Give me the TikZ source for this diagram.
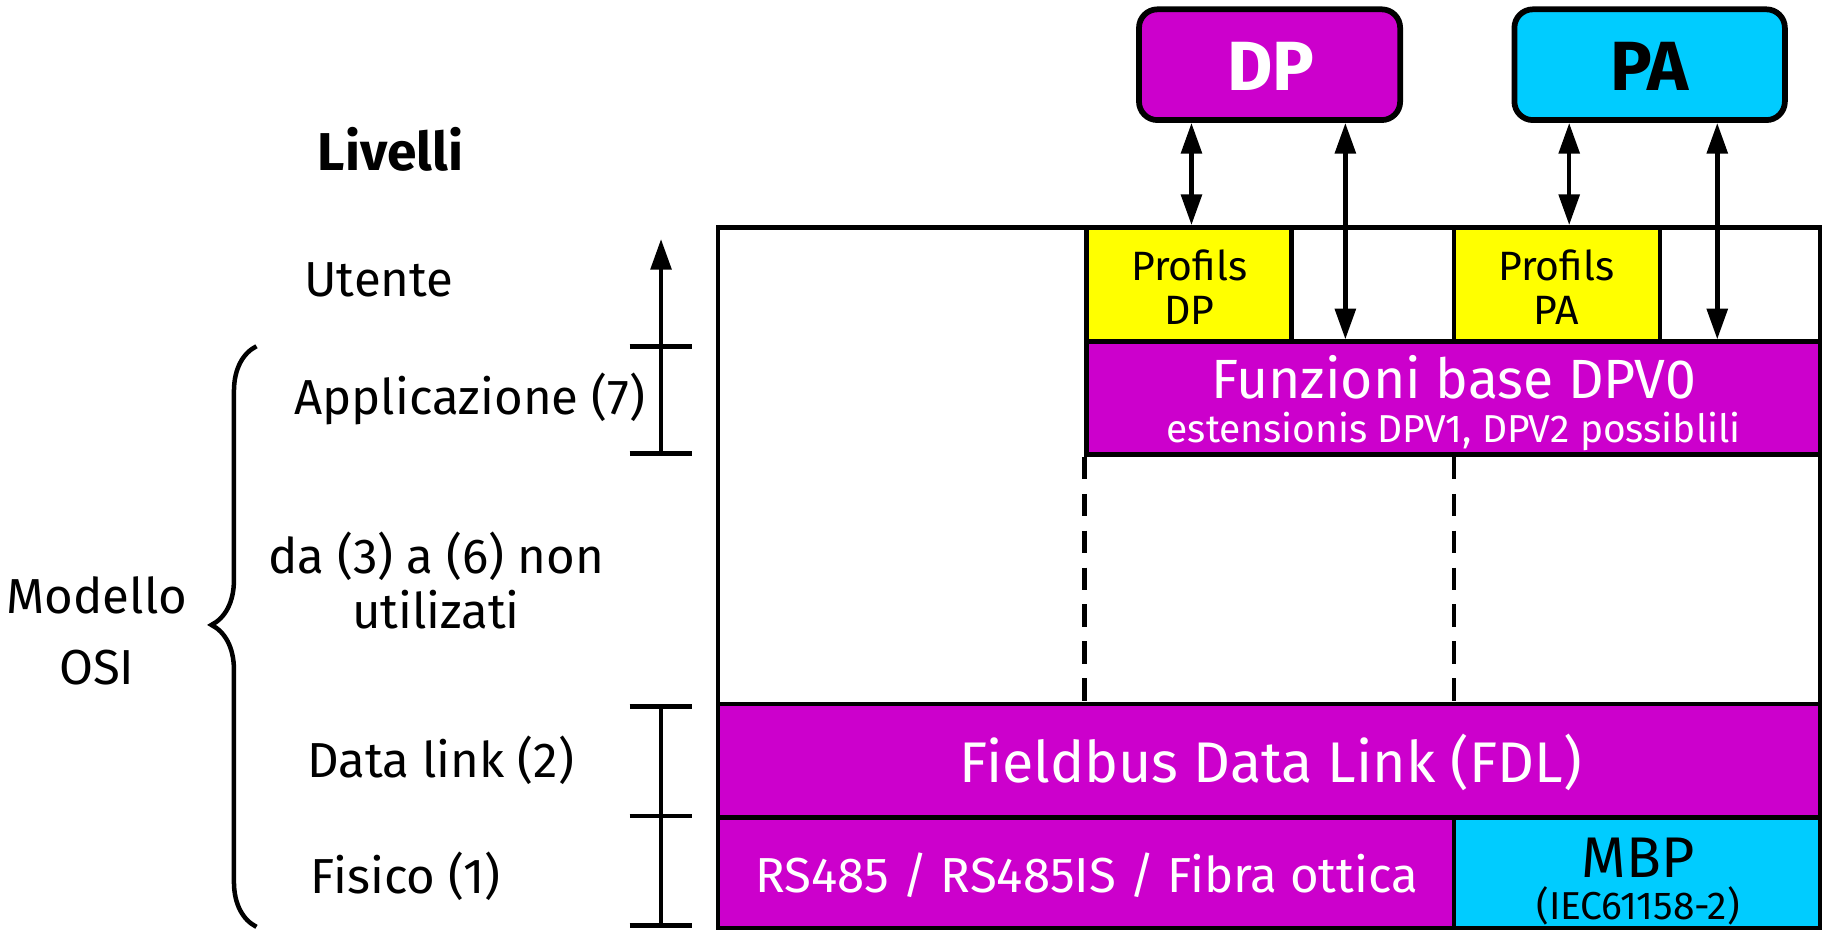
\documentclass[tikz,border=0pt]{standalone}
\usepackage{fontspec}
\setmainfont{Fira Sans}
\usetikzlibrary{arrows.meta,fit,decorations.pathreplacing}
\definecolor{mag}{HTML}{CC00CC}
\definecolor{cyn}{HTML}{00CCFF}
\definecolor{yel}{HTML}{FFFF00}
\begin{document}
\begin{tikzpicture}[x=0.02cm,y=-0.02cm,line width=2.2pt,
  box/.style={draw,rectangle,inner sep=0pt,line width=2.2pt},
  lab/.style={font=\fontsize{24}{28}\selectfont,inner sep=0pt},
  txt/.style={inner sep=0pt},
  dbl/.style={{Triangle[length=15pt,width=10pt]}-{Triangle[length=15pt,width=10pt]},line width=2.2pt},
  tick/.style={line width=2.2pt}]
\useasboundingbox (0,0) rectangle (1568,798);
% main frame
\node[box,fill=white,fit={(616,195)(1561,796)}] (main) {};
% user layer
\node[box,fill=yel,fit={(932,195)(1108,293)}] (pdp) {};
\node[box,fill=yel,fit={(1247,195)(1424,293)}] (ppa) {};
\node[txt,align=center,font=\fontsize{20}{21.5}\selectfont] (pdpt) at (1020,246) {Profils\\DP};
\node[txt,align=center,font=\fontsize{20}{21.5}\selectfont] (ppat) at (1335,246) {Profils\\PA};
% application
\node[box,fill=mag,fit={(932,293)(1561,390)}] (fun) {};
\node[txt,text=white,font=\fontsize{27}{30}\selectfont] (funt) at (1247,324) {Funzioni base DPV0};
\node[txt,text=white,font=\fontsize{19}{22}\selectfont] (fune) at (1247,370) {estensionis DPV1, DPV2 possiblili};
% data link
\node[box,fill=mag,fit={(616,604)(1561,701)}] (fdl) {};
\node[txt,text=white,font=\fontsize{28}{32}\selectfont] (fdlt) at (1090,654) {Fieldbus Data Link (FDL)};
% physical
\node[box,fill=mag,fit={(616,701)(1247,796)}] (rs) {};
\node[txt,text=white,font=\fontsize{24}{28}\selectfont] (rst) at (932,751) {RS485 / RS485IS / Fibra ottica};
\node[box,fill=cyn,fit={(1247,701)(1561,796)}] (mbp) {};
\node[txt,font=\fontsize{28}{30}\selectfont] (mbpt) at (1405,736) {MBP};
\node[txt,font=\fontsize{19}{22}\selectfont] (iec) at (1405,777) {(IEC61158-2)};
% dashed separators
\draw[line width=2.2pt,dash pattern=on 11pt off 7pt] (fun.south west) -- (fun.south west |- fdl.north);
\coordinate (d2) at (1247,0);
\draw[line width=2.2pt,dash pattern=on 11pt off 7pt] (d2 |- fun.south) -- (d2 |- fdl.north);
% top boxes
\node[box,line width=2.8pt,fill=mag,rounded corners=9pt,fit={(977,8)(1201,103)}] (dp) {};
\node[txt,text=white,font=\bfseries\fontsize{34}{38}\selectfont] (dpt) at (1090,57) {DP};
\node[box,line width=2.8pt,fill=cyn,rounded corners=9pt,fit={(1299,8)(1531,103)}] (pa) {};
\node[txt,font=\bfseries\fontsize{34}{38}\selectfont] (pat) at (1415,57) {PA};
% arrows
\coordinate (a1) at (1022,0);
\coordinate (a2) at (1154,0);
\coordinate (a3) at (1346,0);
\coordinate (a4) at (1473,0);
\draw[dbl] (a1 |- dp.south) -- (a1 |- pdp.north);
\draw[dbl] (a2 |- dp.south) -- (a2 |- fun.north);
\draw[dbl] (a3 |- dp.south) -- (a3 |- ppa.north);
\draw[dbl] (a4 |- dp.south) -- (a4 |- fun.north);
% left scale
\coordinate (s0) at (567,205);
\coordinate (s1) at (567,297);
\coordinate (s2) at (567,389);
\coordinate (s3) at (567,606);
\coordinate (s4) at (567,700);
\coordinate (s5) at (567,794);
\draw[-{Triangle[length=15pt,width=10pt]}] (s2) -- (s0);
\draw (s3) -- (s5);
\foreach \s in {s1,s2,s3,s4,s5} \draw[tick] ([xshift=-0.54cm]\s) -- ([xshift=0.54cm]\s);
% brace
\draw[line width=2.2pt,decorate,decoration={brace,amplitude=22pt,aspect=0.52}] (220,795) -- (220,297);
% labels
\node[txt,font=\bfseries\fontsize{26}{30}\selectfont] (liv) at (335,128) {Livelli};
\node[lab] (ute) at (325,240) {Utente};
\node[lab] (app) at (403,342) {Applicazione (7)};
\node[lab,align=center,font=\fontsize{24}{27}\selectfont] (nonu) at (374,498) {da (3) a (6) non\\utilizati};
\node[lab,align=center,font=\fontsize{24}{35}\selectfont] (osi) at (83,541) {Modello\\OSI};
\node[lab] (dl) at (378,652) {Data link (2)};
\node[lab] (fis) at (348,752) {Fisico (1)};
\end{tikzpicture}
\end{document}
